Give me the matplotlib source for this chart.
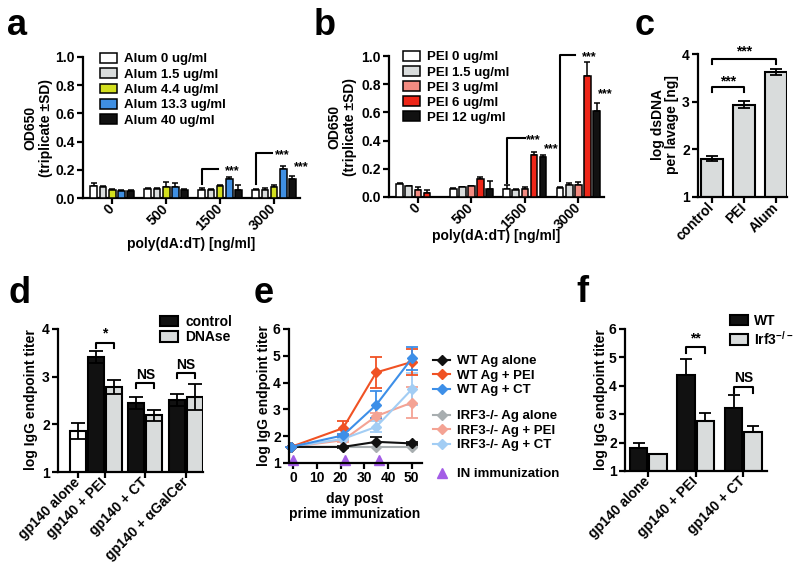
import numpy as np
import matplotlib.pyplot as plt
from matplotlib.lines import Line2D

# ---------------- data ----------------
# a: poly(dA:dT) with Alum, OD650 (triplicate +SD)
dna_doses = ['0', '500', '1500', '3000']
alum_labels = ['Alum 0 ug/ml', 'Alum 1.5 ug/ml', 'Alum 4.4 ug/ml', 'Alum 13.3 ug/ml', 'Alum 40 ug/ml']
alum_0 = [0.085, 0.065, 0.06, 0.055]
alum_1_5 = [0.075, 0.065, 0.055, 0.06]
alum_4_4 = [0.058, 0.08, 0.085, 0.08]
alum_13_3 = [0.05, 0.075, 0.135, 0.205]
alum_40 = [0.05, 0.06, 0.055, 0.135]
alum_0_sd = [0.02, 0.008, 0.008, 0.008]
alum_1_5_sd = [0.008, 0.008, 0.008, 0.008]
alum_4_4_sd = [0.006, 0.03, 0.008, 0.01]
alum_13_3_sd = [0.008, 0.03, 0.014, 0.02]
alum_40_sd = [0.005, 0.006, 0.035, 0.02]

# b: poly(dA:dT) with PEI
pei_labels = ['PEI 0 ug/ml', 'PEI 1.5 ug/ml', 'PEI 3 ug/ml', 'PEI 6 ug/ml', 'PEI 12 ug/ml']
pei_0 = [0.09, 0.06, 0.06, 0.062]
pei_1_5 = [0.075, 0.068, 0.052, 0.085]
pei_3 = [0.052, 0.075, 0.058, 0.085]
pei_6 = [0.028, 0.13, 0.30, 0.855]
pei_12 = [0.0, 0.06, 0.285, 0.61]
pei_0_sd = [0.008, 0.005, 0.022, 0.006]
pei_1_5_sd = [0.005, 0.005, 0.005, 0.015]
pei_3_sd = [0.02, 0.005, 0.01, 0.02]
pei_6_sd = [0.02, 0.01, 0.02, 0.1]
pei_12_sd = [0.0, 0.055, 0.012, 0.06]

# c: dsDNA in lavage
lavage_groups = ['control', 'PEI', 'Alum']
lavage_dsdna = [1.8, 2.94, 3.62]
lavage_sem = [0.05, 0.08, 0.06]

# d: DNAse treatment
d_groups = ['gp140 alone', 'gp140 + PEI', 'gp140 + CT', 'gp140 + \u03b1GalCer']
gp140_alone = 1.86
gp140_alone_sem = 0.17
control_titer = [3.41, 2.45, 2.51]
control_sem = [0.13, 0.12, 0.13]
dnase_titer = [2.78, 2.19, 2.58]
dnase_sem = [0.14, 0.12, 0.27]
d_sig = ['*', 'NS', 'NS']

# e: time course
bleed_days = [-1, 21, 35, 50]
in_days = [0, 22, 36]
wt_alone = [1.6, 1.6, 1.79, 1.73]
wt_alone_sem = [0, 0.03, 0.19, 0.06]
wt_pei = [1.6, 2.3, 4.38, 4.77]
wt_pei_sem = [0, 0.26, 0.57, 0.5]
wt_ct = [1.6, 2.03, 3.17, 4.9]
wt_ct_sem = [0, 0.05, 0.5, 0.42]
irf3_alone = [1.6, 1.6, 1.6, 1.6]
irf3_alone_sem = [0, 0, 0, 0]
irf3_pei = [1.6, 1.85, 2.75, 3.25]
irf3_pei_sem = [0, 0.05, 0.1, 0.58]
irf3_ct = [1.6, 1.9, 2.35, 3.75]
irf3_ct_sem = [0, 0.05, 0.2, 0.6]

# f: WT vs Irf3-/-
f_groups = ['gp140 alone', 'gp140 + PEI', 'gp140 + CT']
wt_titer = [1.81, 4.38, 3.21]
wt_sem = [0.17, 0.56, 0.45]
irf3_titer = [1.6, 2.76, 2.37]
irf3_sem = [0.0, 0.28, 0.22]
f_sig = [None, '**', 'NS']

# ---------------- style ----------------
plt.rcParams['font.family'] = ['Liberation Sans', 'DejaVu Sans']
plt.rcParams['font.weight'] = 'bold'
plt.rcParams['font.size'] = 10
plt.rcParams['mathtext.default'] = 'regular'

LGREY = '#d9dcdc'
BLACK = '#111111'

W, H = 800, 571
fig = plt.figure(figsize=(W / 100, H / 100), dpi=100)


def px_axes(x0, y0, x1, y1):
    ax = fig.add_axes([x0 / W, 1 - y1 / H, (x1 - x0) / W, (y1 - y0) / H])
    ax.spines[['top', 'right']].set_visible(False)
    ax.spines[['left', 'bottom']].set_linewidth(1.6)
    ax.tick_params(width=1.6, length=4, pad=2, labelsize=10)
    return ax


def fig_text(x, y, s, **kw):
    return fig.text(x / W, 1 - y / H, s, **kw)


def bracket(ax, x0, x1, y, drop, label, text_y):
    ax.plot([x0, x0, x1, x1], [y - drop, y, y, y - drop], color='black', lw=1.5, clip_on=False)
    ax.text((x0 + x1) / 2, text_y, label, ha='center', va='center', fontsize=10)


def flag(ax, x0, x1, y0, y1):
    ax.plot([x0, x0, x1], [y0, y1, y1], color='black', lw=1.5, clip_on=False)


def stars(ax, x, y):
    ax.text(x, y, '***', ha='center', va='center', fontsize=9)


def dose_panel(ax, series, sds, colors, labels):
    x = np.arange(len(dna_doses))
    for i in range(len(series)):
        pos = x + (i - 2) * 0.17
        ax.bar(pos, series[i], 0.125, color=colors[i], edgecolor='black',
               linewidth=1.1, label=labels[i], zorder=3)
        ax.errorbar(pos, series[i], yerr=[np.zeros(len(x)), sds[i]], fmt='none',
                    ecolor='black', elinewidth=1.1, capsize=2, capthick=1.1, zorder=2)
    ax.set_xlim(-0.54, 3.48)
    ax.set_ylim(0, 1.0)
    ax.set_yticks(np.arange(0, 1.01, 0.2))
    ax.set_yticklabels(['%.1f' % v for v in np.arange(0, 1.01, 0.2)])
    ax.set_xticks(x)
    ax.set_xticklabels(dna_doses, rotation=45, ha='right', va='center', rotation_mode='anchor')


# ---------------- a ----------------
ax = px_axes(83, 57, 300, 198)
dose_panel(ax, [alum_0, alum_1_5, alum_4_4, alum_13_3, alum_40],
           [alum_0_sd, alum_1_5_sd, alum_4_4_sd, alum_13_3_sd, alum_40_sd],
           ['white', LGREY, '#d3df1f', '#3f8fe2', BLACK], alum_labels)
ax.legend(loc='upper left', bbox_to_anchor=(100 / W, 1 - 53 / H), bbox_transform=fig.transFigure,
          frameon=False, fontsize=9.5, handlelength=1.3, handleheight=0.75,
          handletextpad=0.5, labelspacing=0.22, borderpad=0, borderaxespad=0)
flag(ax, 1.66, 1.97, 0.1, 0.205)
stars(ax, 2.22, 0.19)
flag(ax, 2.66, 2.97, 0.1, 0.32)
stars(ax, 3.16, 0.305)
stars(ax, 3.5, 0.22)
fig_text(38, 128, 'OD650\n(triplicate \u00b1SD)', rotation=90, ha='center', va='center', linespacing=1.1)
fig_text(191, 237, 'poly(dA:dT) [ng/ml]', ha='center', va='top')

# ---------------- b ----------------
ax = px_axes(389, 56, 604, 197)
dose_panel(ax, [pei_0, pei_1_5, pei_3, pei_6, pei_12],
           [pei_0_sd, pei_1_5_sd, pei_3_sd, pei_6_sd, pei_12_sd],
           ['white', LGREY, '#f38b81', '#ee2618', BLACK], pei_labels)
ax.legend(loc='upper left', bbox_to_anchor=(403 / W, 1 - 51 / H), bbox_transform=fig.transFigure,
          frameon=False, fontsize=9.5, handlelength=1.3, handleheight=0.75,
          handletextpad=0.5, labelspacing=0.2, borderpad=0, borderaxespad=0)
flag(ax, 1.66, 2.0, 0.1, 0.42)
stars(ax, 2.15, 0.405)
stars(ax, 2.5, 0.34)
flag(ax, 2.66, 2.93, 0.11, 1.01)
stars(ax, 3.2, 0.995)
stars(ax, 3.5, 0.73)
fig_text(342, 127, 'OD650\n(triplicate \u00b1SD)', rotation=90, ha='center', va='center', linespacing=1.1)
fig_text(496, 229, 'poly(dA:dT) [ng/ml]', ha='center', va='top')

# ---------------- c ----------------
ax = px_axes(698, 54, 787, 197)
xc = np.arange(len(lavage_groups))
ax.bar(xc, lavage_dsdna, 0.68, color=LGREY, edgecolor='black', linewidth=1.5, zorder=2)
ax.errorbar(xc, lavage_dsdna, yerr=lavage_sem, fmt='none', ecolor='black',
            elinewidth=1.3, capsize=4.3, capthick=1.3, zorder=3)
ax.set_xlim(-0.44, 2.34)
ax.set_ylim(1, 4)
ax.set_yticks([1, 2, 3, 4])
ax.set_xticks(xc)
ax.set_xticklabels(lavage_groups, rotation=45, ha='right', va='center', rotation_mode='anchor')
bracket(ax, 0, 1, 3.3, 0.1, '***', 3.42)
bracket(ax, 0, 2, 3.9, 0.1, '***', 4.05)
fig_text(665, 125, 'log dsDNA\nper lavage [ng]', rotation=90, ha='center', va='center', linespacing=1.05)

# ---------------- d ----------------
ax = px_axes(58, 329, 203, 472)
pair_x = np.array([1.5, 3.75, 6.0])
ax.bar(0, gp140_alone, 0.9, color='white', edgecolor='black', linewidth=1.5, zorder=2)
ax.bar(pair_x - 0.5, control_titer, 0.9, color=BLACK, edgecolor='black', linewidth=1.5,
       zorder=2, label='control')
ax.bar(pair_x + 0.5, dnase_titer, 0.9, color=LGREY, edgecolor='black', linewidth=1.5,
       zorder=2, label='DNAse')
ax.errorbar([0], [gp140_alone], yerr=[gp140_alone_sem], fmt='none', ecolor='black',
            elinewidth=1.3, capsize=4.7, capthick=1.3, zorder=3)
ax.errorbar(pair_x - 0.5, control_titer, yerr=control_sem, fmt='none', ecolor='black',
            elinewidth=1.3, capsize=4.7, capthick=1.3, zorder=3)
ax.errorbar(pair_x + 0.5, dnase_titer, yerr=dnase_sem, fmt='none', ecolor='black',
            elinewidth=1.3, capsize=4.7, capthick=1.3, zorder=3)
ax.set_xlim(-1.1, 6.95)
ax.set_ylim(1, 4)
ax.set_yticks([1, 2, 3, 4])
ax.set_xticks([0] + list(pair_x))
ax.set_xticklabels(d_groups, rotation=45, ha='right', va='center', rotation_mode='anchor')
for px_, lab, yb, yt in zip(pair_x, d_sig, [3.7, 2.87, 3.07], [3.9, 3.04, 3.24]):
    bracket(ax, px_ - 0.5, px_ + 0.5, yb, 0.1, lab, yt)
ax.legend(loc='upper left', bbox_to_anchor=(160 / W, 1 - 315 / H), bbox_transform=fig.transFigure,
          frameon=False, fontsize=10, handlelength=1.3, handleheight=0.8,
          handletextpad=0.5, labelspacing=0.1, borderpad=0, borderaxespad=0)
fig_text(31, 400, 'log IgG endpoint titer', rotation=90, ha='center', va='center')

# ---------------- e ----------------
ax = px_axes(289, 329, 422, 463)
lines_e = [
    (irf3_alone, irf3_alone_sem, '#a8aeb0', 'IRF3-/- Ag alone'),
    (irf3_pei, irf3_pei_sem, '#f4a394', 'IRF3-/- Ag + PEI'),
    (irf3_ct, irf3_ct_sem, '#a2cdf4', 'IRF3-/- Ag + CT'),
    (wt_alone, wt_alone_sem, BLACK, 'WT Ag alone'),
    (wt_pei, wt_pei_sem, '#f05224', 'WT Ag + PEI'),
    (wt_ct, wt_ct_sem, '#3d8fe8', 'WT Ag + CT'),
]
handles = {}
for vals, sem, col, lab in lines_e:
    ax.errorbar(bleed_days, vals, yerr=sem, color=col, ecolor=col, lw=1.5, elinewidth=1.3,
                capsize=4.5, capthick=1.3, marker='D', ms=5, clip_on=False)
    handles[lab] = Line2D([], [], color=col, lw=1.5, marker='D', ms=5)
ax.plot(in_days, [1.12] * len(in_days), ls='none', marker='^', ms=7, color='#a35ce6', clip_on=False)
ax.set_xlim(-1.8, 54.3)
ax.set_ylim(1, 6)
ax.set_xticks(np.arange(0, 51, 10))
ax.set_yticks(np.arange(1, 7))
leg_kw = dict(loc='upper left', bbox_transform=fig.transFigure, frameon=False, fontsize=9.5,
              handlelength=1.3, handletextpad=0.55, labelspacing=0.18, borderpad=0, borderaxespad=0)
wt_keys = ['WT Ag alone', 'WT Ag + PEI', 'WT Ag + CT']
ko_keys = ['IRF3-/- Ag alone', 'IRF3-/- Ag + PEI', 'IRF3-/- Ag + CT']
leg1 = ax.legend([handles[k] for k in wt_keys], wt_keys, bbox_to_anchor=(433 / W, 1 - 355 / H), **leg_kw)
ax.add_artist(leg1)
leg2 = ax.legend([handles[k] for k in ko_keys], ko_keys, bbox_to_anchor=(433 / W, 1 - 410 / H), **leg_kw)
ax.add_artist(leg2)
ax.legend([Line2D([], [], ls='none', marker='^', ms=7, color='#a35ce6')], ['IN immunization'],
          bbox_to_anchor=(433 / W, 1 - 468 / H), **leg_kw)
fig_text(264, 396, 'log IgG endpoint titer', rotation=90, ha='center', va='center')
fig_text(355, 492, 'day post\nprime immunization', ha='center', va='top', linespacing=1.1)

# ---------------- f ----------------
ax = px_axes(625, 329, 767, 471)
xf = np.arange(len(f_groups))
ax.bar(xf - 0.205, wt_titer, 0.36, color=BLACK, edgecolor='black', linewidth=1.5, zorder=2, label='WT')
ax.bar(xf + 0.205, irf3_titer, 0.36, color=LGREY, edgecolor='black', linewidth=1.5, zorder=2,
       label='Irf3$^{-/-}$')
ax.errorbar(xf - 0.205, wt_titer, yerr=[np.zeros(3), wt_sem], fmt='none', ecolor='black',
            elinewidth=1.3, capsize=4.3, capthick=1.3, zorder=1)
ax.errorbar(xf + 0.205, irf3_titer, yerr=[np.zeros(3), irf3_sem], fmt='none', ecolor='black',
            elinewidth=1.3, capsize=4.3, capthick=1.3, zorder=1)
ax.set_xlim(-0.49, 2.5)
ax.set_ylim(1, 6)
ax.set_yticks(np.arange(1, 7))
ax.set_xticks(xf)
ax.set_xticklabels(f_groups, rotation=45, ha='right', va='center', rotation_mode='anchor')
for gx, lab, yb, yt in zip(xf, f_sig, [None, 5.37, 3.96], [None, 5.65, 4.27]):
    if lab:
        bracket(ax, gx - 0.205, gx + 0.205, yb, 0.2, lab, yt)
ax.legend(loc='upper left', bbox_to_anchor=(730 / W, 1 - 314 / H), bbox_transform=fig.transFigure,
          frameon=False, fontsize=10, handlelength=1.3, handleheight=0.8,
          handletextpad=0.45, labelspacing=0.1, borderpad=0, borderaxespad=0)
fig_text(601, 400, 'log IgG endpoint titer', rotation=90, ha='center', va='center')

# ---------------- panel letters ----------------
for x, y, s in [(17, 35, 'a'), (325, 35, 'b'), (645, 35, 'c'),
                (20, 303, 'd'), (264, 303, 'e'), (582, 302, 'f')]:
    fig_text(x, y, s, fontsize=26, fontweight='bold', ha='center', va='baseline')

fig.savefig('out.png', dpi=100)
